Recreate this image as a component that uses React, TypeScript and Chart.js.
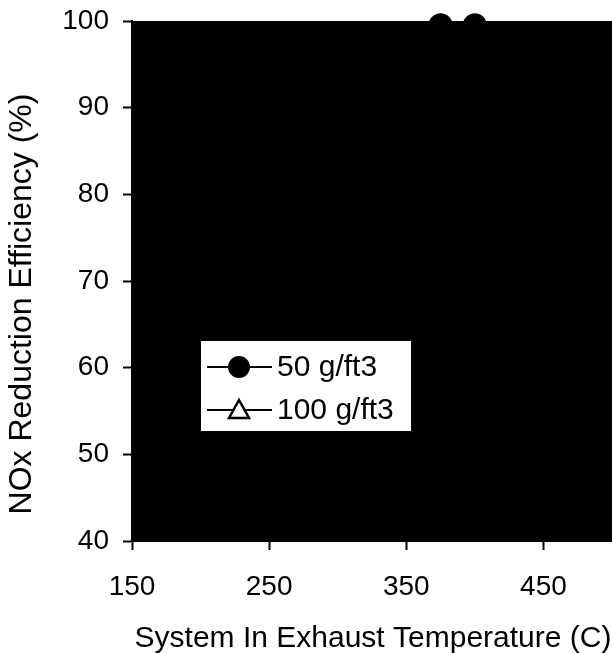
import React, { useEffect, useRef } from "react";
import { Chart, registerables } from "chart.js";

Chart.register(...registerables);

const xTicks = [150, 250, 350, 450];
const yTicks = [40, 50, 60, 70, 80, 90, 100];
const xMin = 150;
const xMax = 500;
const yMin = 40;
const yMax = 100;

const series50Label = "50 g/ft3";
const series50X = [375, 400];
const series50Y = [99.5, 99.5];

const series100Label = "100 g/ft3";
const series100X: number[] = [];
const series100Y: number[] = [];

const xTitle = "System In Exhaust Temperature (C)";
const yTitle = "NOx Reduction Efficiency (%)";

const FONT = "'Liberation Sans', Arial, sans-serif";

const decorPlugin = {
  id: "decor",
  beforeDraw(chart: any) {
    const { ctx, chartArea } = chart;
    ctx.save();
    ctx.fillStyle = "#ffffff";
    ctx.fillRect(0, 0, chart.width, chart.height);
    ctx.fillStyle = "#000000";
    ctx.fillRect(chartArea.left, chartArea.top, chartArea.right - chartArea.left, chartArea.bottom - chartArea.top);
    ctx.restore();
  },
  afterDraw(chart: any) {
    const { ctx } = chart;
    ctx.save();
    // legend box
    const bx = 201, by = 341, bw = 210, bh = 90;
    ctx.fillStyle = "#ffffff";
    ctx.fillRect(bx, by, bw, bh);
    const rows = [
      { label: series50Label, y: 367, marker: "circle" },
      { label: series100Label, y: 410, marker: "triangle" },
    ];
    rows.forEach((r) => {
      ctx.strokeStyle = "#000";
      ctx.lineWidth = 2;
      ctx.beginPath();
      ctx.moveTo(207, r.y);
      ctx.lineTo(272, r.y);
      ctx.stroke();
      if (r.marker === "circle") {
        ctx.fillStyle = "#000";
        ctx.beginPath();
        ctx.arc(239, r.y, 11, 0, Math.PI * 2);
        ctx.fill();
      } else {
        ctx.fillStyle = "#fff";
        ctx.lineWidth = 2.5;
        ctx.beginPath();
        ctx.moveTo(239, r.y - 10);
        ctx.lineTo(249, r.y + 8);
        ctx.lineTo(229, r.y + 8);
        ctx.closePath();
        ctx.fill();
        ctx.stroke();
      }
      ctx.fillStyle = "#000";
      ctx.font = `30px ${FONT}`;
      ctx.textAlign = "left";
      ctx.textBaseline = "middle";
      ctx.fillText(r.label, 277, r.y + 1);
    });
    // y title
    ctx.save();
    ctx.translate(22, 304);
    ctx.rotate(-Math.PI / 2);
    ctx.font = `32px ${FONT}`;
    ctx.fillStyle = "#000";
    ctx.textAlign = "center";
    ctx.textBaseline = "middle";
    ctx.fillText(yTitle, 0, 0);
    ctx.restore();
    // x title
    ctx.font = `30px ${FONT}`;
    ctx.fillStyle = "#000";
    ctx.textAlign = "center";
    ctx.textBaseline = "middle";
    ctx.fillText(xTitle, 373, 639);
    ctx.restore();
  },
};

export default function App() {
  const ref = useRef<HTMLCanvasElement | null>(null);
  useEffect(() => {
    if (!ref.current) return;
    const chart = new Chart(ref.current, {
      type: "scatter",
      data: {
        datasets: [
          {
            label: series50Label,
            data: series50X.map((x, i) => ({ x, y: series50Y[i] })),
            showLine: true,
            borderColor: "#000",
            backgroundColor: "#000",
            borderWidth: 2,
            pointRadius: 11,
            pointStyle: "circle",
            clip: false as any,
          },
          {
            label: series100Label,
            data: series100X.map((x, i) => ({ x, y: series100Y[i] })),
            showLine: true,
            borderColor: "#000",
            backgroundColor: "#fff",
            borderWidth: 2,
            pointRadius: 10,
            pointStyle: "triangle",
            clip: false as any,
          },
        ],
      },
      options: {
        animation: false,
        responsive: false,
        maintainAspectRatio: false,
        layout: { autoPadding: false, padding: { top: 21, left: 0, right: 0, bottom: 0 } },
        plugins: {
          legend: { display: false },
          tooltip: { enabled: false },
        },
        scales: {
          x: {
            type: "linear",
            min: xMin,
            max: xMax,
            afterBuildTicks: (s: any) => {
              s.ticks = xTicks.map((v) => ({ value: v }));
            },
            afterFit: (s: any) => {
              s.height = 112;
              s.paddingLeft = 0;
              s.paddingRight = 0;
            },
            grid: { drawOnChartArea: false, tickLength: 9, tickColor: "#000", tickWidth: 2 },
            border: { color: "#000", width: 2 },
            ticks: {
              color: "#000",
              font: { size: 28, family: FONT },
              padding: 20,
              maxRotation: 0,
              autoSkip: false,
            },
          },
          y: {
            type: "linear",
            min: yMin,
            max: yMax,
            afterBuildTicks: (s: any) => {
              s.ticks = yTicks.map((v) => ({ value: v }));
            },
            afterFit: (s: any) => {
              s.width = 132;
              s.paddingTop = 0;
              s.paddingBottom = 0;
            },
            grid: { drawOnChartArea: false, tickLength: 9, tickColor: "#000", tickWidth: 2 },
            border: { color: "#000", width: 2 },
            ticks: {
              color: "#000",
              font: { size: 28, family: FONT },
              padding: 14,
              autoSkip: false,
            },
          },
        },
      },
      plugins: [decorPlugin],
    });
    return () => chart.destroy();
  }, []);
  return (
    <div style={{ position: "absolute", left: 0, top: 0, width: 612, height: 653 }}>
      <canvas ref={ref} width={612} height={653} style={{ display: "block" }} />
    </div>
  );
}
